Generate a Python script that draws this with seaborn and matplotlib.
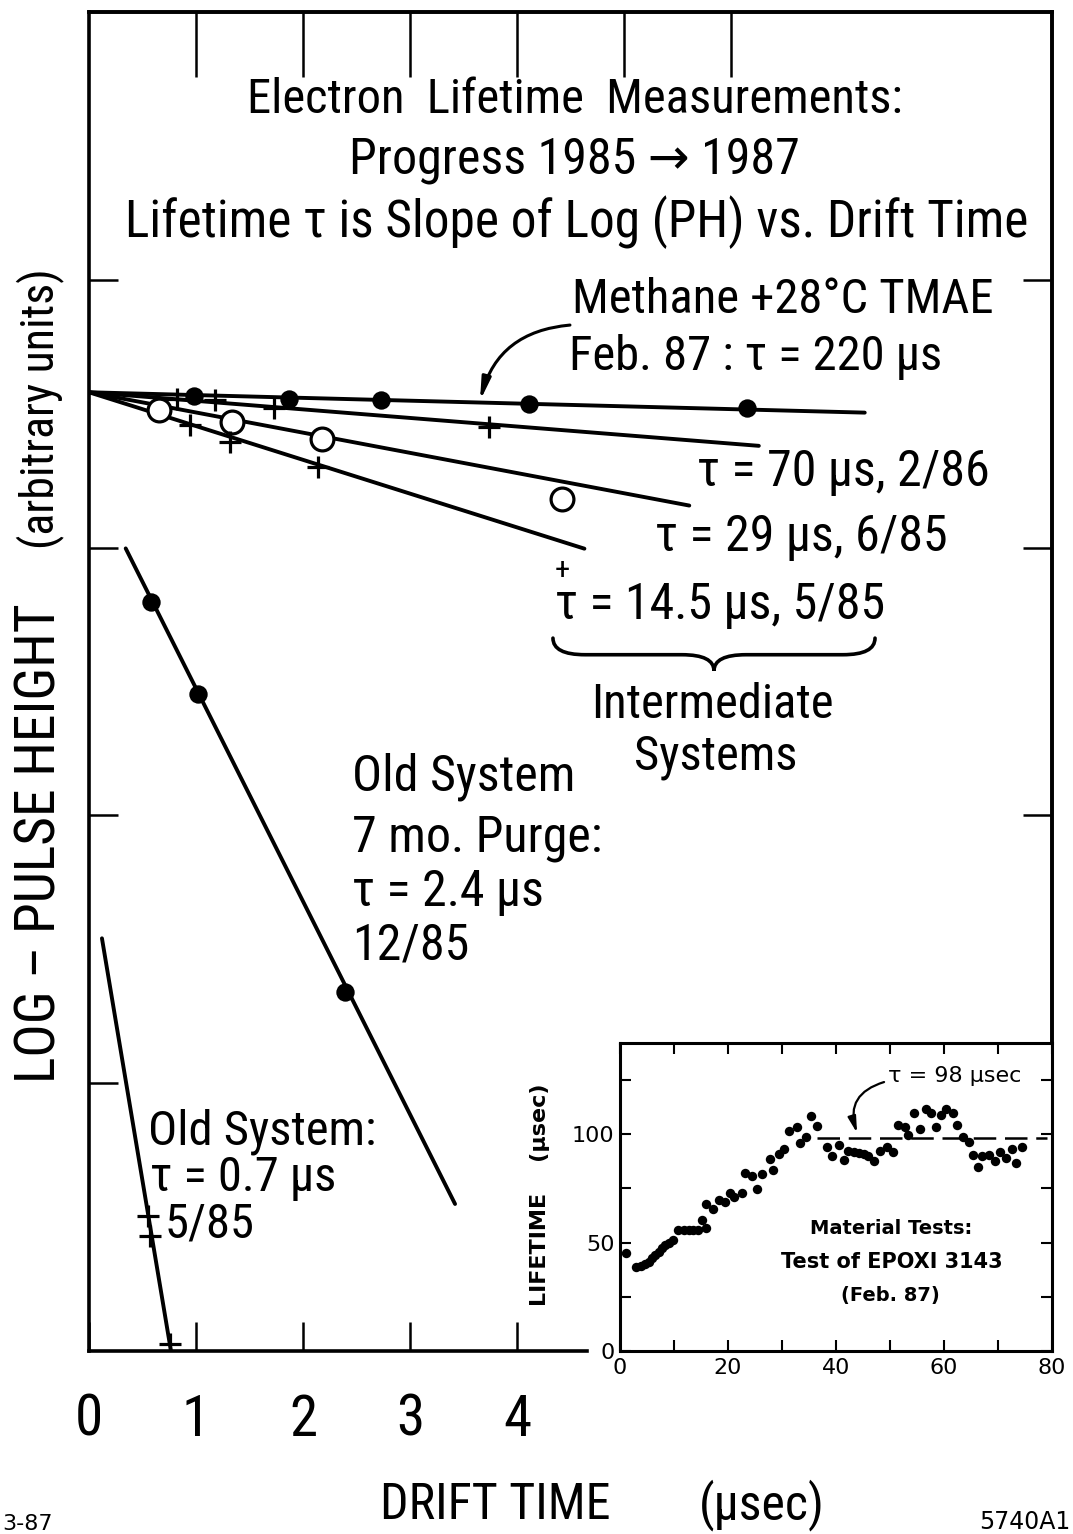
import matplotlib
matplotlib.use("Agg")
import numpy as np
import pandas as pd
import matplotlib.pyplot as plt
import seaborn as sns
from matplotlib import font_manager as fm
from matplotlib.path import Path
from matplotlib.patches import PathPatch

# ---------------- main panel: log pulse height vs drift time (usec) ----------------
# Methane + 28 C TMAE, Feb. 87  (tau = 220 us), filled circles
feb87_t = [0.98, 1.87, 2.73, 4.11, 6.15]
feb87_ph = [3.567, 3.556, 3.552, 3.537, 3.522]
feb87_fit_t = [0.0, 7.25]
feb87_fit_ph = [3.58, 3.504]

# tau = 70 us, 2/86, crosses
feb86_t = [0.82, 1.18, 1.73, 3.74]
feb86_ph = [3.556, 3.550, 3.522, 3.452]
feb86_fit_t = [0.0, 6.26]
feb86_fit_ph = [3.58, 3.38]

# tau = 29 us, 6/85, open circles
jun85_t = [0.65, 1.34, 2.18, 4.42]
jun85_ph = [3.515, 3.470, 3.407, 3.183]
jun85_fit_t = [0.0, 5.61]
jun85_fit_ph = [3.58, 3.157]

# tau = 14.5 us, 5/85, crosses
may85_t = [0.94, 1.32, 2.14]
may85_ph = [3.459, 3.396, 3.302]
may85_fit_t = [0.0, 4.63]
may85_fit_ph = [3.58, 2.996]

# old system, 7 mo. purge: tau = 2.4 us, 12/85, filled circles
dec85_t = [0.579, 1.019, 2.393]
dec85_ph = [2.795, 2.455, 1.340]
dec85_fit_t = [0.343, 3.421]
dec85_fit_ph = [2.997, 0.549]

# old system: tau = 0.7 us, 5/85, crosses
old_t = [0.551, 0.570, 0.757]
old_ph = [0.504, 0.429, 0.026]
old_fit_t = [0.121, 0.766]
old_fit_ph = [1.541, 0.0]

drift_ticks = [0, 1, 2, 3, 4]
drift_labels = ["0", "1", "2", "3", "4"]

# ---------------- inset: material test of EPOXI 3143 ----------------
epoxy_t = [1.2, 2.9, 3.8, 4.7, 5.3, 5.9, 6.5, 7.2, 7.8, 8.4, 9.0, 9.9, 10.8, 11.8,
           12.7, 13.6, 14.5, 15.1, 15.9, 16.0, 17.3, 18.4, 19.4, 20.3, 21.2, 22.5,
           23.1, 24.4, 25.3, 26.3, 27.7, 28.4, 29.4, 30.4, 31.3, 32.7, 33.3, 34.5,
           35.4, 36.5, 38.4, 39.3, 40.5, 41.4, 42.2, 43.3, 44.2, 45.1, 45.9, 47.1,
           48.2, 49.4, 50.6, 51.5, 52.8, 53.4, 54.5, 55.5, 56.6, 57.6, 58.6, 59.5,
           60.4, 61.6, 62.4, 63.5, 64.7, 65.3, 66.3, 67.1, 68.4, 69.4, 70.4, 71.4,
           72.5, 73.4, 74.5]
epoxy_tau = [45.3, 38.9, 39.2, 40.0, 41.2, 42.7, 44.3, 45.8, 47.3, 48.9, 49.9, 51.1,
             56.0, 56.0, 56.0, 55.7, 56.0, 60.3, 56.5, 67.6, 65.6, 69.5, 68.7, 72.8,
             71.0, 72.8, 82.0, 80.5, 74.8, 81.7, 88.5, 83.5, 90.8, 93.1, 101.2, 103.4,
             95.7, 98.8, 108.4, 103.8, 93.9, 90.0, 95.1, 88.2, 92.4, 91.6, 91.3, 90.8,
             90.0, 87.8, 92.4, 93.9, 91.6, 104.3, 103.4, 99.7, 109.5, 102.3, 111.5,
             109.9, 103.4, 108.9, 111.5, 109.5, 104.3, 98.5, 96.2, 90.5, 85.0, 90.1,
             90.5, 87.5, 91.6, 89.0, 93.1, 86.6, 94.2]
epoxy_mean = 98.0
epoxy_mean_span = [36.5, 79.0]
inset_xticks = [0, 20, 40, 60, 80]
inset_yticks = [0, 50, 100]

epoxy = pd.DataFrame({"time": epoxy_t, "lifetime": epoxy_tau})


def first_font(names, default="DejaVu Sans"):
    for n in names:
        try:
            fm.findfont(fm.FontProperties(family=n), fallback_to_default=False)
            return n
        except ValueError:
            continue
    return default


sns.set_theme(style="white")
LETTER = first_font(["Liberation Sans Narrow", "DejaVu Sans Condensed",
                     "Roboto Condensed", "Liberation Sans"])
LETTER_FAM = [LETTER, "DejaVu Sans"]
plt.rcParams["font.family"] = LETTER_FAM
plt.rcParams["axes.edgecolor"] = "black"

W, H = 1073, 1534
fig = plt.figure(figsize=(W / 100, H / 100), dpi=100)
fig.patch.set_facecolor("white")

L, R, T, B = 89, 1052, 12, 1351
ax = fig.add_axes([L / W, 1 - B / H, (R - L) / W, (B - T) / H])
ax.set_xlim(0, 9.0)
ax.set_ylim(0, 5.0)
for sp in ax.spines.values():
    sp.set_linewidth(2.6)
    sp.set_color("black")
ax.spines["bottom"].set_bounds(0, 4.65)

LW = 2.8


def fit_line(ts, ph):
    sns.lineplot(x=ts, y=ph, ax=ax, color="black", linewidth=LW,
                 estimator=None, sort=False, legend=False, zorder=2)


def filled(ts, ph):
    sns.scatterplot(x=ts, y=ph, ax=ax, marker="o", s=175, color="black",
                    edgecolor="black", linewidth=0, legend=False, zorder=4)


def hollow(ts, ph):
    sns.scatterplot(x=ts, y=ph, ax=ax, marker="o", s=270, color="white",
                    edgecolor="black", linewidth=2.3, legend=False, zorder=4)


def cross(ts, ph):
    sns.scatterplot(x=ts, y=ph, ax=ax, marker="+", s=260, color="black",
                    linewidth=2.3, legend=False, zorder=4)


for ft, fp in [(feb87_fit_t, feb87_fit_ph), (feb86_fit_t, feb86_fit_ph),
               (jun85_fit_t, jun85_fit_ph), (may85_fit_t, may85_fit_ph),
               (dec85_fit_t, dec85_fit_ph), (old_fit_t, old_fit_ph)]:
    fit_line(ft, fp)

filled(feb87_t, feb87_ph)
cross(feb86_t, feb86_ph)
hollow(jun85_t, jun85_ph)
cross(may85_t, may85_ph)
filled(dec85_t, dec85_ph)
cross(old_t, old_ph)

# ticks
ax.set_xticks(drift_ticks)
ax.set_xticklabels(drift_labels, fontsize=41, family=LETTER_FAM)
ax.set_yticks([1, 2, 3, 4])
ax.set_yticklabels([])
ax.tick_params(axis="x", direction="in", length=21, width=1.8, bottom=True,
               top=False, pad=30, colors="black")
ax.tick_params(axis="y", direction="in", length=21, width=1.8, left=True,
               right=False, colors="black")
top = ax.secondary_xaxis("top")
top.set_xticks([1, 2, 3, 4, 5, 6])
top.set_xticklabels([])
top.tick_params(direction="in", length=47, width=1.8, colors="black")
top.spines["top"].set_linewidth(2.6)
rgt = ax.secondary_yaxis("right")
rgt.set_yticks([2, 3, 4])
rgt.set_yticklabels([])
rgt.tick_params(direction="in", length=21, width=1.8, colors="black")
rgt.spines["right"].set_linewidth(2.6)
ax.set_xlabel("")
ax.set_ylabel("")

TXT = dict(color="black", family=LETTER_FAM)
FS = 35

ax.text(4.54, 4.67, "Electron  Lifetime  Measurements:", ha="center", va="center",
        fontsize=35, **TXT)
ax.text(4.54, 4.447, "Progress 1985 \u2192 1987", ha="center", va="center",
        fontsize=36, **TXT)
ax.text(4.56, 4.216, "Lifetime \u03c4 is Slope of Log (PH) vs. Drift Time",
        ha="center", va="center", fontsize=37, **TXT)
ax.text(4.51, 3.925, "Methane +28\u00b0C TMAE", ha="left", va="center",
        fontsize=FS, **TXT)
ax.text(4.49, 3.712, "Feb. 87 : \u03c4 = 220 \u03bcs", ha="left", va="center",
        fontsize=FS, **TXT)
ax.text(5.68, 3.282, "\u03c4 = 70 \u03bcs, 2/86", ha="left", va="center",
        fontsize=36, **TXT)
ax.text(5.29, 3.040, "\u03c4 = 29 \u03bcs, 6/85", ha="left", va="center",
        fontsize=36, **TXT)
ax.text(4.355, 2.786, "\u03c4 = 14.5 \u03bcs, 5/85", ha="left", va="center",
        fontsize=36, **TXT)
ax.text(4.42, 2.915, "+", ha="center", va="center", fontsize=22, **TXT)
ax.text(5.83, 2.412, "Intermediate", ha="center", va="center", fontsize=FS, **TXT)
ax.text(5.86, 2.218, "Systems", ha="center", va="center", fontsize=FS, **TXT)
for y, s in [(2.143, "Old System"), (1.916, "7 mo. Purge:"),
             (1.714, "\u03c4 = 2.4 \u03bcs"), (1.516, "12/85")]:
    ax.text(2.46, y, s, ha="left", va="center", fontsize=36, **TXT)
ax.text(0.551, 0.818, "Old System:", ha="left", va="center", fontsize=FS, **TXT)
ax.text(0.570, 0.646, "\u03c4 = 0.7 \u03bcs", ha="left", va="center", fontsize=FS, **TXT)
ax.text(0.71, 0.474, "5/85", ha="left", va="center", fontsize=FS, **TXT)


# curly brace under the intermediate systems
def brace(axis, x0, x1, y_end, y_body, y_tip, w):
    xc = 0.5 * (x0 + x1)
    verts = [(x0, y_end), (x0, y_body), (x0 + w, y_body),
             (xc - w, y_body), (xc, y_body), (xc, y_tip),
             (xc, y_body), (xc + w, y_body),
             (x1 - w, y_body), (x1, y_body), (x1, y_end)]
    codes = [Path.MOVETO, Path.CURVE3, Path.CURVE3,
             Path.LINETO, Path.CURVE3, Path.CURVE3,
             Path.CURVE3, Path.CURVE3,
             Path.LINETO, Path.CURVE3, Path.CURVE3]
    axis.add_patch(PathPatch(Path(verts, codes), fill=False, lw=2.6,
                             edgecolor="black", capstyle="round", zorder=3))


brace(ax, 4.336, 7.346, 2.662, 2.600, 2.540, 0.30)

# arrow to the methane line
ax.annotate("", xy=(3.654, 3.548), xytext=(4.495, 3.831),
            arrowprops=dict(arrowstyle="-|>,head_length=1.1,head_width=0.22",
                            connectionstyle="arc3,rad=0.35", lw=2.2,
                            color="black", shrinkA=0, shrinkB=0))

fig.text(495 / W, 1 - 1505 / H, "DRIFT TIME", ha="center", va="center",
         fontsize=36, **TXT)
fig.text(762 / W, 1 - 1505 / H, "(\u03bcsec)", ha="center", va="center",
         fontsize=36, **TXT)
fig.text(40 / W, 1 - 843 / H, "LOG \u2013 PULSE HEIGHT", rotation=90, ha="center",
         va="center", fontsize=40, **TXT)
fig.text(40 / W, 1 - 409 / H, "(arbitrary units)", rotation=90, ha="center",
         va="center", fontsize=33, **TXT)
fig.text(2 / W, 1 - 1524 / H, "3-87", ha="left", va="center", fontsize=16,
         color="black", family="DejaVu Sans")
fig.text(1070 / W, 1 - 1522 / H, "5740A1", ha="right", va="center", fontsize=17,
         color="black", family="DejaVu Sans")

# ---------------- inset ----------------
IL, IT = 620, 1043
axi = fig.add_axes([IL / W, 1 - B / H, (R - IL) / W, (B - IT) / H])
axi.set_facecolor("white")
axi.set_zorder(5)
sns.scatterplot(data=epoxy, x="time", y="lifetime", ax=axi, s=46, color="black",
                linewidth=0, legend=False, zorder=3)
sns.lineplot(x=epoxy_mean_span, y=[epoxy_mean, epoxy_mean], ax=axi, color="black",
             linewidth=1.8, legend=False, zorder=2)
axi.lines[-1].set_linestyle((0, (9, 3.5)))
axi.set_xlim(0, 80)
axi.set_ylim(0, 142)
for sp in axi.spines.values():
    sp.set_linewidth(2.2)
    sp.set_color("black")
INS = dict(color="black", family="DejaVu Sans")
axi.set_xticks(inset_xticks)
axi.set_xticklabels([str(v) for v in inset_xticks], fontsize=16, **INS)
axi.set_xticks(list(range(10, 80, 20)), minor=True)
axi.set_yticks(inset_yticks)
axi.set_yticklabels([str(v) for v in inset_yticks], fontsize=16, **INS)
axi.set_yticks([25, 75, 125], minor=True)
axi.tick_params(which="both", direction="in", length=8, width=1.5, top=True,
                right=True, bottom=True, left=True, colors="black")
axi.tick_params(axis="x", pad=5)
axi.tick_params(axis="y", pad=4)
axi.set_xlabel("")
axi.set_ylabel("")
axi.text(49.6, 127, "\u03c4 = 98 \u03bcsec", ha="left", va="center", fontsize=16, **INS)
axi.annotate("", xy=(43.9, 100.5), xytext=(48.9, 124),
             arrowprops=dict(arrowstyle="-|>,head_length=0.8,head_width=0.2",
                             connectionstyle="arc3,rad=0.5", lw=1.6,
                             color="black", shrinkA=0, shrinkB=0))
axi.text(50.3, 56.3, "Material Tests:", ha="center", va="center", fontsize=14,
         fontweight="bold", **INS)
axi.text(50.3, 41.2, "Test of EPOXI 3143", ha="center", va="center", fontsize=15,
         fontweight="bold", **INS)
axi.text(50.0, 25.4, "(Feb. 87)", ha="center", va="center", fontsize=14,
         fontweight="bold", **INS)
fig.text(540 / W, 1 - 1195 / H, "LIFETIME    (\u03bcsec)", rotation=90, ha="center",
         va="center", fontsize=16, fontweight="bold", **INS)

fig.savefig("out.png", dpi=100, facecolor="white")
